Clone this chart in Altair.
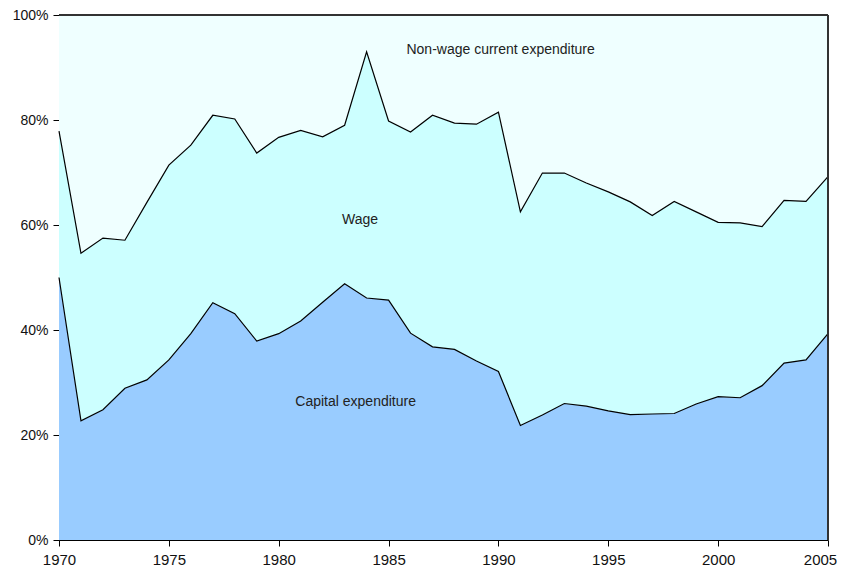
import altair as alt
import pandas as pd

years = list(range(1970, 2006))

capital = [50.0, 22.7, 24.8, 28.9, 30.5, 34.3, 39.3, 45.2, 43.1, 37.9,
           39.3, 41.7, 45.3, 48.8, 46.1, 45.7, 39.4, 36.8, 36.3, 34.1,
           32.1, 21.8, 23.8, 26.0, 25.5, 24.6, 23.9, 24.0, 24.1, 25.9,
           27.3, 27.1, 29.4, 33.7, 34.3, 39.3]

wage = [27.9, 31.9, 32.7, 28.2, 33.8, 37.1, 35.9, 35.7, 37.1, 35.8,
        37.4, 36.3, 31.5, 30.2, 46.9, 34.1, 38.3, 44.1, 43.1, 45.1,
        49.4, 40.7, 46.1, 43.9, 42.5, 41.7, 40.5, 37.8, 40.4, 36.6,
        33.2, 33.3, 30.3, 31.0, 30.2, 29.9]

nonwage = [22.1, 45.4, 42.5, 42.9, 35.7, 28.6, 24.8, 19.1, 19.8, 26.3,
           23.3, 22.0, 23.2, 21.0, 7.0, 20.2, 22.3, 19.1, 20.6, 20.8,
           18.5, 37.5, 30.1, 30.1, 32.0, 33.7, 35.6, 38.2, 35.5, 37.5,
           39.5, 39.6, 40.3, 35.3, 35.5, 30.8]

series_names = ["Capital expenditure", "Wage", "Non-wage current expenditure"]
series_colors = ["#99CCFF", "#CCFFFF", "#EFFFFF"]

label_texts = ["Non-wage current expenditure", "Wage", "Capital expenditure"]
label_years = [1990.1, 1983.7, 1983.5]
label_shares = [93.3, 60.9, 26.3]

x_ticks = [1970, 1975, 1980, 1985, 1990, 1995, 2000, 2005]

rows = []
line_rows = []
for i, y in enumerate(years):
    cum = 0.0
    for k, (name, vals) in enumerate(zip(series_names, [capital, wage, nonwage])):
        rows.append({"year": y, "series": name, "share": vals[i] / 100.0, "order": k})
        cum += vals[i]
        if k < 2:
            line_rows.append({"year": y, "series": name, "top": cum / 100.0})
df = pd.DataFrame(rows)
lines_df = pd.DataFrame(line_rows)

labels_df = pd.DataFrame({"text": label_texts, "year": label_years,
                          "share": [v / 100.0 for v in label_shares]})

FONT = "Liberation Sans"

x_scale = alt.Scale(domain=[1970, 2005], nice=False, zero=False)
y_scale = alt.Scale(domain=[0, 1], nice=False)

x_enc = alt.X("year:Q", scale=x_scale,
              axis=alt.Axis(values=x_ticks, format="d", title=None, grid=False,
                            labelFlush=False, labelFontSize=15, labelFont=FONT,
                            labelColor="#111", tickSize=6, tickColor="black",
                            domainColor="black", labelPadding=6, labelOverlap=False,
                            labelOffset={"condition": {"test": "datum.value == 2005", "value": -8},
                                         "value": 0}))

areas = alt.Chart(df).mark_area(opacity=1).encode(
    x=x_enc,
    y=alt.Y("share:Q", stack="zero", scale=y_scale,
            axis=alt.Axis(values=[0, 0.2, 0.4, 0.6, 0.8, 1.0], format=".0%", title=None,
                          grid=False, labelFontSize=14, labelFont=FONT, labelColor="#111",
                          tickSize=6, tickColor="black", domainColor="black",
                          labelPadding=5)),
    color=alt.Color("series:N", scale=alt.Scale(domain=series_names, range=series_colors),
                    legend=None),
    order=alt.Order("order:Q", sort="ascending"),
)

lines = alt.Chart(lines_df).mark_line(color="black", strokeWidth=1.2).encode(
    x=alt.X("year:Q"),
    y=alt.Y("top:Q", scale=y_scale),
    detail="series:N",
)

top_border = alt.Chart(lines_df).mark_rule(color="#333", strokeWidth=1.2).encode(
    x=alt.datum(1970), x2=alt.datum(2005), y=alt.datum(1.0)
)
right_border = alt.Chart(lines_df).mark_rule(color="#333", strokeWidth=1.2).encode(
    x=alt.datum(2005), y=alt.datum(0.0), y2=alt.datum(1.0)
)

texts = alt.Chart(labels_df).mark_text(
    font=FONT, fontSize=14, color="#222", align="center", baseline="middle"
).encode(
    x=alt.X("year:Q"),
    y=alt.Y("share:Q"),
    text="text:N",
)

chart = alt.layer(areas, lines, top_border, right_border, texts).properties(
    width=769, height=525,
    autosize=alt.AutoSizeParams(type="none"),
    padding={"left": 51, "top": 7, "right": 9, "bottom": 30},
).configure_view(
    stroke=None
).configure(background="white")

chart.save("out.html", embed_options={"renderer": "svg", "actions": False})
